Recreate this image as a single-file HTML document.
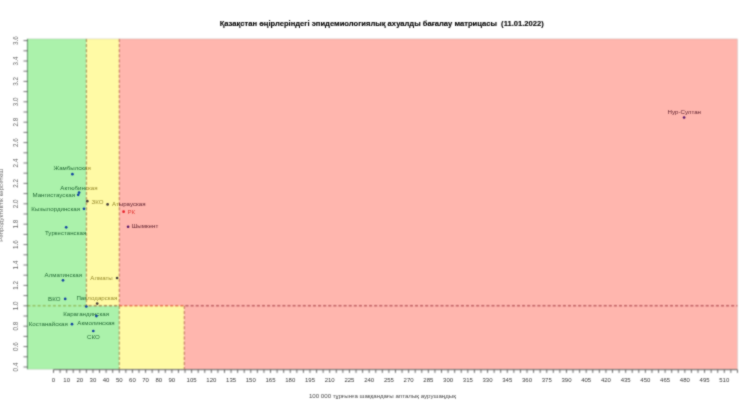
<!DOCTYPE html>
<html lang="kk"><head><meta charset="utf-8"><title>Матрица</title>
<style>html,body{margin:0;padding:0;background:#fff;overflow:hidden}svg{display:block}text{font-family:"Liberation Sans",sans-serif}</style></head><body>
<svg width="740" height="408" viewBox="0 0 740 408">
<defs>
<linearGradient id="tA" gradientUnits="userSpaceOnUse" x1="0" y1="0" x2="740" y2="0"><stop offset="0.11673" stop-color="#236a35"/><stop offset="0.11673" stop-color="#96892a"/><stop offset="0.16117" stop-color="#96892a"/><stop offset="0.16117" stop-color="#622430"/></linearGradient>
<linearGradient id="tB" gradientUnits="userSpaceOnUse" x1="0" y1="0" x2="740" y2="0"><stop offset="0.16117" stop-color="#236a35"/><stop offset="0.16117" stop-color="#96892a"/><stop offset="0.24905" stop-color="#96892a"/><stop offset="0.24905" stop-color="#622430"/></linearGradient>
<linearGradient id="pA" gradientUnits="userSpaceOnUse" x1="0" y1="0" x2="740" y2="0"><stop offset="0.11673" stop-color="#1244a0"/><stop offset="0.11673" stop-color="#453e3a"/><stop offset="0.16117" stop-color="#453e3a"/><stop offset="0.16117" stop-color="#5a1a6a"/></linearGradient>
<linearGradient id="pB" gradientUnits="userSpaceOnUse" x1="0" y1="0" x2="740" y2="0"><stop offset="0.16117" stop-color="#1244a0"/><stop offset="0.16117" stop-color="#453e3a"/><stop offset="0.24905" stop-color="#453e3a"/><stop offset="0.24905" stop-color="#5a1a6a"/></linearGradient>
<linearGradient id="hl" gradientUnits="userSpaceOnUse" x1="0" y1="0" x2="740" y2="0"><stop offset="0.11673" stop-color="#81a83b"/><stop offset="0.11673" stop-color="#8c5a28"/><stop offset="0.16117" stop-color="#8c5a28"/><stop offset="0.16117" stop-color="#d73c1e"/><stop offset="0.24905" stop-color="#d73c1e"/><stop offset="0.24905" stop-color="#a03038"/></linearGradient>
<filter id="sf" x="0" y="0" width="740" height="408" filterUnits="userSpaceOnUse" color-interpolation-filters="sRGB"><feConvolveMatrix order="3" kernelMatrix="1 2 1 2 6 2 1 2 1" divisor="18" edgeMode="duplicate" preserveAlpha="true"/></filter>
<filter id="sf2" x="0" y="0" width="740" height="408" filterUnits="userSpaceOnUse" color-interpolation-filters="sRGB"><feConvolveMatrix order="3" kernelMatrix="1 3 1 3 16 3 1 3 1" divisor="32" edgeMode="duplicate" preserveAlpha="false"/></filter>
</defs>
<g filter="url(#sf)">
<rect x="0" y="0" width="740" height="408" fill="#fff"/>
<rect x="27.30" y="38.90" width="59.08" height="266.90" fill="#abf2ab"/>
<rect x="86.38" y="38.90" width="32.88" height="266.90" fill="#fffaa5"/>
<rect x="119.27" y="38.90" width="618.13" height="266.90" fill="#ffb6ae"/>
<rect x="27.30" y="305.80" width="91.97" height="63.40" fill="#abf2ab"/>
<rect x="119.27" y="305.80" width="65.04" height="63.40" fill="#fffaa5"/>
<rect x="184.30" y="305.80" width="553.10" height="63.40" fill="#ffb6ae"/>
<rect x="27.3" y="38.9" width="710.10" height="330.30" fill="none" stroke="#888" stroke-opacity="0.35" stroke-width="0.6"/>
<line x1="86.38" y1="38.90" x2="86.38" y2="305.80" stroke="#8a561e" stroke-opacity="0.7" stroke-width="1" stroke-dasharray="3.2 1.9" fill="none"/>
<line x1="119.27" y1="38.90" x2="119.27" y2="305.80" stroke="#a2462a" stroke-opacity="0.7" stroke-width="1" stroke-dasharray="3.2 1.9" fill="none"/>
<line x1="119.27" y1="305.80" x2="119.27" y2="369.20" stroke="#8a561e" stroke-opacity="0.7" stroke-width="1" stroke-dasharray="3.2 1.9" fill="none"/>
<line x1="184.30" y1="305.80" x2="184.30" y2="369.20" stroke="#a2462a" stroke-opacity="0.7" stroke-width="1" stroke-dasharray="3.2 1.9" fill="none"/>
<line x1="27.30" y1="305.80" x2="737.40" y2="305.80" stroke="url(#hl)" stroke-opacity="1.0" stroke-width="1" stroke-dasharray="3.2 1.9" fill="none"/>
<line x1="27.40" y1="38.9" x2="27.40" y2="369.2" stroke="#2f6a3c" stroke-opacity="0.7" stroke-width="0.9" fill="none"/>
<line x1="23.50" y1="367.00" x2="27.70" y2="367.00" stroke="#555" stroke-width="0.8" fill="none"/>
<line x1="23.50" y1="356.80" x2="27.70" y2="356.80" stroke="#555" stroke-width="0.8" fill="none"/>
<line x1="23.50" y1="346.60" x2="27.70" y2="346.60" stroke="#555" stroke-width="0.8" fill="none"/>
<line x1="23.50" y1="336.40" x2="27.70" y2="336.40" stroke="#555" stroke-width="0.8" fill="none"/>
<line x1="23.50" y1="326.20" x2="27.70" y2="326.20" stroke="#555" stroke-width="0.8" fill="none"/>
<line x1="23.50" y1="316.00" x2="27.70" y2="316.00" stroke="#555" stroke-width="0.8" fill="none"/>
<line x1="23.50" y1="305.80" x2="27.70" y2="305.80" stroke="#555" stroke-width="0.8" fill="none"/>
<line x1="23.50" y1="295.60" x2="27.70" y2="295.60" stroke="#555" stroke-width="0.8" fill="none"/>
<line x1="23.50" y1="285.40" x2="27.70" y2="285.40" stroke="#555" stroke-width="0.8" fill="none"/>
<line x1="23.50" y1="275.20" x2="27.70" y2="275.20" stroke="#555" stroke-width="0.8" fill="none"/>
<line x1="23.50" y1="265.00" x2="27.70" y2="265.00" stroke="#555" stroke-width="0.8" fill="none"/>
<line x1="23.50" y1="254.80" x2="27.70" y2="254.80" stroke="#555" stroke-width="0.8" fill="none"/>
<line x1="23.50" y1="244.60" x2="27.70" y2="244.60" stroke="#555" stroke-width="0.8" fill="none"/>
<line x1="23.50" y1="234.40" x2="27.70" y2="234.40" stroke="#555" stroke-width="0.8" fill="none"/>
<line x1="23.50" y1="224.20" x2="27.70" y2="224.20" stroke="#555" stroke-width="0.8" fill="none"/>
<line x1="23.50" y1="214.00" x2="27.70" y2="214.00" stroke="#555" stroke-width="0.8" fill="none"/>
<line x1="23.50" y1="203.80" x2="27.70" y2="203.80" stroke="#555" stroke-width="0.8" fill="none"/>
<line x1="23.50" y1="193.60" x2="27.70" y2="193.60" stroke="#555" stroke-width="0.8" fill="none"/>
<line x1="23.50" y1="183.40" x2="27.70" y2="183.40" stroke="#555" stroke-width="0.8" fill="none"/>
<line x1="23.50" y1="173.20" x2="27.70" y2="173.20" stroke="#555" stroke-width="0.8" fill="none"/>
<line x1="23.50" y1="163.00" x2="27.70" y2="163.00" stroke="#555" stroke-width="0.8" fill="none"/>
<line x1="23.50" y1="152.80" x2="27.70" y2="152.80" stroke="#555" stroke-width="0.8" fill="none"/>
<line x1="23.50" y1="142.60" x2="27.70" y2="142.60" stroke="#555" stroke-width="0.8" fill="none"/>
<line x1="23.50" y1="132.40" x2="27.70" y2="132.40" stroke="#555" stroke-width="0.8" fill="none"/>
<line x1="23.50" y1="122.20" x2="27.70" y2="122.20" stroke="#555" stroke-width="0.8" fill="none"/>
<line x1="23.50" y1="112.00" x2="27.70" y2="112.00" stroke="#555" stroke-width="0.8" fill="none"/>
<line x1="23.50" y1="101.80" x2="27.70" y2="101.80" stroke="#555" stroke-width="0.8" fill="none"/>
<line x1="23.50" y1="91.60" x2="27.70" y2="91.60" stroke="#555" stroke-width="0.8" fill="none"/>
<line x1="23.50" y1="81.40" x2="27.70" y2="81.40" stroke="#555" stroke-width="0.8" fill="none"/>
<line x1="23.50" y1="71.20" x2="27.70" y2="71.20" stroke="#555" stroke-width="0.8" fill="none"/>
<line x1="23.50" y1="61.00" x2="27.70" y2="61.00" stroke="#555" stroke-width="0.8" fill="none"/>
<line x1="23.50" y1="50.80" x2="27.70" y2="50.80" stroke="#555" stroke-width="0.8" fill="none"/>
<line x1="23.50" y1="40.60" x2="27.70" y2="40.60" stroke="#555" stroke-width="0.8" fill="none"/>
<line x1="53.50" y1="369.7" x2="737.46" y2="369.7" stroke="#444" stroke-width="0.8" fill="none"/>
<line x1="53.50" y1="369.7" x2="53.50" y2="372.90" stroke="#444" stroke-width="0.8" fill="none"/>
<line x1="60.08" y1="369.7" x2="60.08" y2="372.90" stroke="#444" stroke-width="0.8" fill="none"/>
<line x1="66.65" y1="369.7" x2="66.65" y2="372.90" stroke="#444" stroke-width="0.8" fill="none"/>
<line x1="73.23" y1="369.7" x2="73.23" y2="372.90" stroke="#444" stroke-width="0.8" fill="none"/>
<line x1="79.81" y1="369.7" x2="79.81" y2="372.90" stroke="#444" stroke-width="0.8" fill="none"/>
<line x1="86.38" y1="369.7" x2="86.38" y2="372.90" stroke="#444" stroke-width="0.8" fill="none"/>
<line x1="92.96" y1="369.7" x2="92.96" y2="372.90" stroke="#444" stroke-width="0.8" fill="none"/>
<line x1="99.54" y1="369.7" x2="99.54" y2="372.90" stroke="#444" stroke-width="0.8" fill="none"/>
<line x1="106.11" y1="369.7" x2="106.11" y2="372.90" stroke="#444" stroke-width="0.8" fill="none"/>
<line x1="112.69" y1="369.7" x2="112.69" y2="372.90" stroke="#444" stroke-width="0.8" fill="none"/>
<line x1="119.27" y1="369.7" x2="119.27" y2="372.90" stroke="#444" stroke-width="0.8" fill="none"/>
<line x1="125.84" y1="369.7" x2="125.84" y2="372.90" stroke="#444" stroke-width="0.8" fill="none"/>
<line x1="132.42" y1="369.7" x2="132.42" y2="372.90" stroke="#444" stroke-width="0.8" fill="none"/>
<line x1="138.99" y1="369.7" x2="138.99" y2="372.90" stroke="#444" stroke-width="0.8" fill="none"/>
<line x1="145.57" y1="369.7" x2="145.57" y2="372.90" stroke="#444" stroke-width="0.8" fill="none"/>
<line x1="152.15" y1="369.7" x2="152.15" y2="372.90" stroke="#444" stroke-width="0.8" fill="none"/>
<line x1="158.72" y1="369.7" x2="158.72" y2="372.90" stroke="#444" stroke-width="0.8" fill="none"/>
<line x1="165.30" y1="369.7" x2="165.30" y2="372.90" stroke="#444" stroke-width="0.8" fill="none"/>
<line x1="171.88" y1="369.7" x2="171.88" y2="372.90" stroke="#444" stroke-width="0.8" fill="none"/>
<line x1="178.45" y1="369.7" x2="178.45" y2="372.90" stroke="#444" stroke-width="0.8" fill="none"/>
<line x1="185.03" y1="369.7" x2="185.03" y2="372.90" stroke="#444" stroke-width="0.8" fill="none"/>
<line x1="191.61" y1="369.7" x2="191.61" y2="372.90" stroke="#444" stroke-width="0.8" fill="none"/>
<line x1="198.18" y1="369.7" x2="198.18" y2="372.90" stroke="#444" stroke-width="0.8" fill="none"/>
<line x1="204.76" y1="369.7" x2="204.76" y2="372.90" stroke="#444" stroke-width="0.8" fill="none"/>
<line x1="211.34" y1="369.7" x2="211.34" y2="372.90" stroke="#444" stroke-width="0.8" fill="none"/>
<line x1="217.91" y1="369.7" x2="217.91" y2="372.90" stroke="#444" stroke-width="0.8" fill="none"/>
<line x1="224.49" y1="369.7" x2="224.49" y2="372.90" stroke="#444" stroke-width="0.8" fill="none"/>
<line x1="231.07" y1="369.7" x2="231.07" y2="372.90" stroke="#444" stroke-width="0.8" fill="none"/>
<line x1="237.64" y1="369.7" x2="237.64" y2="372.90" stroke="#444" stroke-width="0.8" fill="none"/>
<line x1="244.22" y1="369.7" x2="244.22" y2="372.90" stroke="#444" stroke-width="0.8" fill="none"/>
<line x1="250.79" y1="369.7" x2="250.79" y2="372.90" stroke="#444" stroke-width="0.8" fill="none"/>
<line x1="257.37" y1="369.7" x2="257.37" y2="372.90" stroke="#444" stroke-width="0.8" fill="none"/>
<line x1="263.95" y1="369.7" x2="263.95" y2="372.90" stroke="#444" stroke-width="0.8" fill="none"/>
<line x1="270.52" y1="369.7" x2="270.52" y2="372.90" stroke="#444" stroke-width="0.8" fill="none"/>
<line x1="277.10" y1="369.7" x2="277.10" y2="372.90" stroke="#444" stroke-width="0.8" fill="none"/>
<line x1="283.68" y1="369.7" x2="283.68" y2="372.90" stroke="#444" stroke-width="0.8" fill="none"/>
<line x1="290.25" y1="369.7" x2="290.25" y2="372.90" stroke="#444" stroke-width="0.8" fill="none"/>
<line x1="296.83" y1="369.7" x2="296.83" y2="372.90" stroke="#444" stroke-width="0.8" fill="none"/>
<line x1="303.41" y1="369.7" x2="303.41" y2="372.90" stroke="#444" stroke-width="0.8" fill="none"/>
<line x1="309.98" y1="369.7" x2="309.98" y2="372.90" stroke="#444" stroke-width="0.8" fill="none"/>
<line x1="316.56" y1="369.7" x2="316.56" y2="372.90" stroke="#444" stroke-width="0.8" fill="none"/>
<line x1="323.14" y1="369.7" x2="323.14" y2="372.90" stroke="#444" stroke-width="0.8" fill="none"/>
<line x1="329.71" y1="369.7" x2="329.71" y2="372.90" stroke="#444" stroke-width="0.8" fill="none"/>
<line x1="336.29" y1="369.7" x2="336.29" y2="372.90" stroke="#444" stroke-width="0.8" fill="none"/>
<line x1="342.87" y1="369.7" x2="342.87" y2="372.90" stroke="#444" stroke-width="0.8" fill="none"/>
<line x1="349.44" y1="369.7" x2="349.44" y2="372.90" stroke="#444" stroke-width="0.8" fill="none"/>
<line x1="356.02" y1="369.7" x2="356.02" y2="372.90" stroke="#444" stroke-width="0.8" fill="none"/>
<line x1="362.60" y1="369.7" x2="362.60" y2="372.90" stroke="#444" stroke-width="0.8" fill="none"/>
<line x1="369.17" y1="369.7" x2="369.17" y2="372.90" stroke="#444" stroke-width="0.8" fill="none"/>
<line x1="375.75" y1="369.7" x2="375.75" y2="372.90" stroke="#444" stroke-width="0.8" fill="none"/>
<line x1="382.32" y1="369.7" x2="382.32" y2="372.90" stroke="#444" stroke-width="0.8" fill="none"/>
<line x1="388.90" y1="369.7" x2="388.90" y2="372.90" stroke="#444" stroke-width="0.8" fill="none"/>
<line x1="395.48" y1="369.7" x2="395.48" y2="372.90" stroke="#444" stroke-width="0.8" fill="none"/>
<line x1="402.05" y1="369.7" x2="402.05" y2="372.90" stroke="#444" stroke-width="0.8" fill="none"/>
<line x1="408.63" y1="369.7" x2="408.63" y2="372.90" stroke="#444" stroke-width="0.8" fill="none"/>
<line x1="415.21" y1="369.7" x2="415.21" y2="372.90" stroke="#444" stroke-width="0.8" fill="none"/>
<line x1="421.78" y1="369.7" x2="421.78" y2="372.90" stroke="#444" stroke-width="0.8" fill="none"/>
<line x1="428.36" y1="369.7" x2="428.36" y2="372.90" stroke="#444" stroke-width="0.8" fill="none"/>
<line x1="434.94" y1="369.7" x2="434.94" y2="372.90" stroke="#444" stroke-width="0.8" fill="none"/>
<line x1="441.51" y1="369.7" x2="441.51" y2="372.90" stroke="#444" stroke-width="0.8" fill="none"/>
<line x1="448.09" y1="369.7" x2="448.09" y2="372.90" stroke="#444" stroke-width="0.8" fill="none"/>
<line x1="454.67" y1="369.7" x2="454.67" y2="372.90" stroke="#444" stroke-width="0.8" fill="none"/>
<line x1="461.24" y1="369.7" x2="461.24" y2="372.90" stroke="#444" stroke-width="0.8" fill="none"/>
<line x1="467.82" y1="369.7" x2="467.82" y2="372.90" stroke="#444" stroke-width="0.8" fill="none"/>
<line x1="474.40" y1="369.7" x2="474.40" y2="372.90" stroke="#444" stroke-width="0.8" fill="none"/>
<line x1="480.97" y1="369.7" x2="480.97" y2="372.90" stroke="#444" stroke-width="0.8" fill="none"/>
<line x1="487.55" y1="369.7" x2="487.55" y2="372.90" stroke="#444" stroke-width="0.8" fill="none"/>
<line x1="494.13" y1="369.7" x2="494.13" y2="372.90" stroke="#444" stroke-width="0.8" fill="none"/>
<line x1="500.70" y1="369.7" x2="500.70" y2="372.90" stroke="#444" stroke-width="0.8" fill="none"/>
<line x1="507.28" y1="369.7" x2="507.28" y2="372.90" stroke="#444" stroke-width="0.8" fill="none"/>
<line x1="513.86" y1="369.7" x2="513.86" y2="372.90" stroke="#444" stroke-width="0.8" fill="none"/>
<line x1="520.43" y1="369.7" x2="520.43" y2="372.90" stroke="#444" stroke-width="0.8" fill="none"/>
<line x1="527.01" y1="369.7" x2="527.01" y2="372.90" stroke="#444" stroke-width="0.8" fill="none"/>
<line x1="533.58" y1="369.7" x2="533.58" y2="372.90" stroke="#444" stroke-width="0.8" fill="none"/>
<line x1="540.16" y1="369.7" x2="540.16" y2="372.90" stroke="#444" stroke-width="0.8" fill="none"/>
<line x1="546.74" y1="369.7" x2="546.74" y2="372.90" stroke="#444" stroke-width="0.8" fill="none"/>
<line x1="553.31" y1="369.7" x2="553.31" y2="372.90" stroke="#444" stroke-width="0.8" fill="none"/>
<line x1="559.89" y1="369.7" x2="559.89" y2="372.90" stroke="#444" stroke-width="0.8" fill="none"/>
<line x1="566.47" y1="369.7" x2="566.47" y2="372.90" stroke="#444" stroke-width="0.8" fill="none"/>
<line x1="573.04" y1="369.7" x2="573.04" y2="372.90" stroke="#444" stroke-width="0.8" fill="none"/>
<line x1="579.62" y1="369.7" x2="579.62" y2="372.90" stroke="#444" stroke-width="0.8" fill="none"/>
<line x1="586.20" y1="369.7" x2="586.20" y2="372.90" stroke="#444" stroke-width="0.8" fill="none"/>
<line x1="592.77" y1="369.7" x2="592.77" y2="372.90" stroke="#444" stroke-width="0.8" fill="none"/>
<line x1="599.35" y1="369.7" x2="599.35" y2="372.90" stroke="#444" stroke-width="0.8" fill="none"/>
<line x1="605.93" y1="369.7" x2="605.93" y2="372.90" stroke="#444" stroke-width="0.8" fill="none"/>
<line x1="612.50" y1="369.7" x2="612.50" y2="372.90" stroke="#444" stroke-width="0.8" fill="none"/>
<line x1="619.08" y1="369.7" x2="619.08" y2="372.90" stroke="#444" stroke-width="0.8" fill="none"/>
<line x1="625.66" y1="369.7" x2="625.66" y2="372.90" stroke="#444" stroke-width="0.8" fill="none"/>
<line x1="632.23" y1="369.7" x2="632.23" y2="372.90" stroke="#444" stroke-width="0.8" fill="none"/>
<line x1="638.81" y1="369.7" x2="638.81" y2="372.90" stroke="#444" stroke-width="0.8" fill="none"/>
<line x1="645.38" y1="369.7" x2="645.38" y2="372.90" stroke="#444" stroke-width="0.8" fill="none"/>
<line x1="651.96" y1="369.7" x2="651.96" y2="372.90" stroke="#444" stroke-width="0.8" fill="none"/>
<line x1="658.54" y1="369.7" x2="658.54" y2="372.90" stroke="#444" stroke-width="0.8" fill="none"/>
<line x1="665.11" y1="369.7" x2="665.11" y2="372.90" stroke="#444" stroke-width="0.8" fill="none"/>
<line x1="671.69" y1="369.7" x2="671.69" y2="372.90" stroke="#444" stroke-width="0.8" fill="none"/>
<line x1="678.27" y1="369.7" x2="678.27" y2="372.90" stroke="#444" stroke-width="0.8" fill="none"/>
<line x1="684.84" y1="369.7" x2="684.84" y2="372.90" stroke="#444" stroke-width="0.8" fill="none"/>
<line x1="691.42" y1="369.7" x2="691.42" y2="372.90" stroke="#444" stroke-width="0.8" fill="none"/>
<line x1="698.00" y1="369.7" x2="698.00" y2="372.90" stroke="#444" stroke-width="0.8" fill="none"/>
<line x1="704.57" y1="369.7" x2="704.57" y2="372.90" stroke="#444" stroke-width="0.8" fill="none"/>
<line x1="711.15" y1="369.7" x2="711.15" y2="372.90" stroke="#444" stroke-width="0.8" fill="none"/>
<line x1="717.73" y1="369.7" x2="717.73" y2="372.90" stroke="#444" stroke-width="0.8" fill="none"/>
<line x1="724.30" y1="369.7" x2="724.30" y2="372.90" stroke="#444" stroke-width="0.8" fill="none"/>
<line x1="730.88" y1="369.7" x2="730.88" y2="372.90" stroke="#444" stroke-width="0.8" fill="none"/>
<line x1="737.46" y1="369.7" x2="737.46" y2="372.90" stroke="#444" stroke-width="0.8" fill="none"/>
</g>
<g filter="url(#sf2)">
<text transform="translate(18.2 367.00) rotate(-90)" text-anchor="middle" font-size="6.3" fill="#666">0.4</text>
<text transform="translate(18.2 346.60) rotate(-90)" text-anchor="middle" font-size="6.3" fill="#666">0.6</text>
<text transform="translate(18.2 326.20) rotate(-90)" text-anchor="middle" font-size="6.3" fill="#666">0.8</text>
<text transform="translate(18.2 305.80) rotate(-90)" text-anchor="middle" font-size="6.3" fill="#666">1.0</text>
<text transform="translate(18.2 285.40) rotate(-90)" text-anchor="middle" font-size="6.3" fill="#666">1.2</text>
<text transform="translate(18.2 265.00) rotate(-90)" text-anchor="middle" font-size="6.3" fill="#666">1.4</text>
<text transform="translate(18.2 244.60) rotate(-90)" text-anchor="middle" font-size="6.3" fill="#666">1.6</text>
<text transform="translate(18.2 224.20) rotate(-90)" text-anchor="middle" font-size="6.3" fill="#666">1.8</text>
<text transform="translate(18.2 203.80) rotate(-90)" text-anchor="middle" font-size="6.3" fill="#666">2.0</text>
<text transform="translate(18.2 183.40) rotate(-90)" text-anchor="middle" font-size="6.3" fill="#666">2.2</text>
<text transform="translate(18.2 163.00) rotate(-90)" text-anchor="middle" font-size="6.3" fill="#666">2.4</text>
<text transform="translate(18.2 142.60) rotate(-90)" text-anchor="middle" font-size="6.3" fill="#666">2.6</text>
<text transform="translate(18.2 122.20) rotate(-90)" text-anchor="middle" font-size="6.3" fill="#666">2.8</text>
<text transform="translate(18.2 101.80) rotate(-90)" text-anchor="middle" font-size="6.3" fill="#666">3.0</text>
<text transform="translate(18.2 81.40) rotate(-90)" text-anchor="middle" font-size="6.3" fill="#666">3.2</text>
<text transform="translate(18.2 61.00) rotate(-90)" text-anchor="middle" font-size="6.3" fill="#666">3.4</text>
<text transform="translate(18.2 40.60) rotate(-90)" text-anchor="middle" font-size="6.3" fill="#666">3.6</text>
<text x="53.50" y="382.2" text-anchor="middle" font-size="6" fill="#383838">0</text>
<text x="66.65" y="382.2" text-anchor="middle" font-size="6" fill="#383838">10</text>
<text x="79.81" y="382.2" text-anchor="middle" font-size="6" fill="#383838">20</text>
<text x="92.96" y="382.2" text-anchor="middle" font-size="6" fill="#383838">30</text>
<text x="106.11" y="382.2" text-anchor="middle" font-size="6" fill="#383838">40</text>
<text x="119.27" y="382.2" text-anchor="middle" font-size="6" fill="#383838">50</text>
<text x="132.42" y="382.2" text-anchor="middle" font-size="6" fill="#383838">60</text>
<text x="145.57" y="382.2" text-anchor="middle" font-size="6" fill="#383838">70</text>
<text x="158.72" y="382.2" text-anchor="middle" font-size="6" fill="#383838">80</text>
<text x="171.88" y="382.2" text-anchor="middle" font-size="6" fill="#383838">90</text>
<text x="191.61" y="382.2" text-anchor="middle" font-size="6" fill="#383838">105</text>
<text x="211.34" y="382.2" text-anchor="middle" font-size="6" fill="#383838">120</text>
<text x="231.07" y="382.2" text-anchor="middle" font-size="6" fill="#383838">135</text>
<text x="250.79" y="382.2" text-anchor="middle" font-size="6" fill="#383838">150</text>
<text x="270.52" y="382.2" text-anchor="middle" font-size="6" fill="#383838">165</text>
<text x="290.25" y="382.2" text-anchor="middle" font-size="6" fill="#383838">180</text>
<text x="309.98" y="382.2" text-anchor="middle" font-size="6" fill="#383838">195</text>
<text x="329.71" y="382.2" text-anchor="middle" font-size="6" fill="#383838">210</text>
<text x="349.44" y="382.2" text-anchor="middle" font-size="6" fill="#383838">225</text>
<text x="369.17" y="382.2" text-anchor="middle" font-size="6" fill="#383838">240</text>
<text x="388.90" y="382.2" text-anchor="middle" font-size="6" fill="#383838">255</text>
<text x="408.63" y="382.2" text-anchor="middle" font-size="6" fill="#383838">270</text>
<text x="428.36" y="382.2" text-anchor="middle" font-size="6" fill="#383838">285</text>
<text x="448.09" y="382.2" text-anchor="middle" font-size="6" fill="#383838">300</text>
<text x="467.82" y="382.2" text-anchor="middle" font-size="6" fill="#383838">315</text>
<text x="487.55" y="382.2" text-anchor="middle" font-size="6" fill="#383838">330</text>
<text x="507.28" y="382.2" text-anchor="middle" font-size="6" fill="#383838">345</text>
<text x="527.01" y="382.2" text-anchor="middle" font-size="6" fill="#383838">360</text>
<text x="546.74" y="382.2" text-anchor="middle" font-size="6" fill="#383838">375</text>
<text x="566.47" y="382.2" text-anchor="middle" font-size="6" fill="#383838">390</text>
<text x="586.20" y="382.2" text-anchor="middle" font-size="6" fill="#383838">405</text>
<text x="605.93" y="382.2" text-anchor="middle" font-size="6" fill="#383838">420</text>
<text x="625.66" y="382.2" text-anchor="middle" font-size="6" fill="#383838">435</text>
<text x="645.38" y="382.2" text-anchor="middle" font-size="6" fill="#383838">450</text>
<text x="665.11" y="382.2" text-anchor="middle" font-size="6" fill="#383838">465</text>
<text x="684.84" y="382.2" text-anchor="middle" font-size="6" fill="#383838">480</text>
<text x="704.57" y="382.2" text-anchor="middle" font-size="6" fill="#383838">495</text>
<text x="724.30" y="382.2" text-anchor="middle" font-size="6" fill="#383838">510</text>
<text x="381.7" y="26.3" text-anchor="middle" font-size="7.6" font-weight="bold" fill="#000" stroke="#000" stroke-width="0.12" xml:space="preserve">Қазақстан өңірлеріндегі эпидемиологиялық ахуалды бағалау матрицасы  (11.01.2022)</text>
<text x="382.4" y="397.8" text-anchor="middle" font-size="5.8" textLength="147" lengthAdjust="spacingAndGlyphs" fill="#484848">100 000 тұрғынға шаққандағы апталық аурушаңдық</text>
<text transform="translate(2.9 205.2) rotate(-90)" text-anchor="middle" font-size="5.8" textLength="73" lengthAdjust="spacingAndGlyphs" fill="#6a6a6a">Репродуктивтік көрсеткіш</text>
<circle cx="72.40" cy="174.20" r="1.35" fill="url(#pA)"/>
<text x="72.15" y="170.29" text-anchor="middle" font-size="5.85" textLength="37.46" lengthAdjust="spacingAndGlyphs" fill="url(#tA)">Жамбылская</text>
<circle cx="79.10" cy="192.60" r="1.35" fill="url(#pA)"/>
<text x="78.95" y="189.69" text-anchor="middle" font-size="5.85" textLength="37.25" lengthAdjust="spacingAndGlyphs" fill="url(#tA)">Актюбинская</text>
<circle cx="78.20" cy="194.80" r="1.35" fill="url(#pA)"/>
<text x="75.00" y="197.09" text-anchor="end" font-size="5.85" textLength="42.47" lengthAdjust="spacingAndGlyphs" fill="url(#tA)">Мангистауская</text>
<circle cx="87.30" cy="201.20" r="1.35" fill="url(#pA)"/>
<text x="91.50" y="203.89" text-anchor="start" font-size="5.85" textLength="12.00" lengthAdjust="spacingAndGlyphs" fill="url(#tA)">ЗКО</text>
<circle cx="107.60" cy="204.40" r="1.35" fill="url(#pA)"/>
<text x="112.00" y="206.49" text-anchor="start" font-size="5.85" textLength="33.59" lengthAdjust="spacingAndGlyphs" fill="url(#tA)">Атырауская</text>
<circle cx="123.60" cy="211.70" r="1.35" fill="#e8202a"/>
<text x="127.40" y="213.79" text-anchor="start" font-size="5.85" textLength="7.68" lengthAdjust="spacingAndGlyphs" fill="#e23c36">РК</text>
<circle cx="84.00" cy="208.80" r="1.35" fill="url(#pA)"/>
<text x="80.00" y="210.89" text-anchor="end" font-size="5.85" textLength="48.61" lengthAdjust="spacingAndGlyphs" fill="url(#tA)">Кызылординская</text>
<circle cx="128.10" cy="226.75" r="1.35" fill="url(#pA)"/>
<text x="131.70" y="228.49" text-anchor="start" font-size="5.85" textLength="26.65" lengthAdjust="spacingAndGlyphs" fill="url(#tA)">Шымкент</text>
<circle cx="66.20" cy="227.30" r="1.35" fill="url(#pA)"/>
<text x="65.60" y="235.29" text-anchor="middle" font-size="5.85" textLength="41.26" lengthAdjust="spacingAndGlyphs" fill="url(#tA)">Туркестанская</text>
<circle cx="63.00" cy="280.30" r="1.35" fill="url(#pA)"/>
<text x="63.35" y="276.79" text-anchor="middle" font-size="5.85" textLength="37.46" lengthAdjust="spacingAndGlyphs" fill="url(#tA)">Алматинская</text>
<circle cx="117.10" cy="278.00" r="1.35" fill="url(#pA)"/>
<text x="112.80" y="279.79" text-anchor="end" font-size="5.85" textLength="22.41" lengthAdjust="spacingAndGlyphs" fill="url(#tA)">Алматы</text>
<circle cx="65.20" cy="298.90" r="1.35" fill="url(#pA)"/>
<text x="60.50" y="300.99" text-anchor="end" font-size="5.85" textLength="12.38" lengthAdjust="spacingAndGlyphs" fill="url(#tA)">ВКО</text>
<circle cx="97.20" cy="303.60" r="1.35" fill="url(#pA)"/>
<text x="96.90" y="300.29" text-anchor="middle" font-size="5.85" textLength="40.94" lengthAdjust="spacingAndGlyphs" fill="url(#tA)">Павлодарская</text>
<circle cx="86.30" cy="306.50" r="1.35" fill="url(#pB)"/>
<text x="86.10" y="315.59" text-anchor="middle" font-size="5.85" textLength="45.78" lengthAdjust="spacingAndGlyphs" fill="url(#tB)">Карагандинская</text>
<circle cx="96.40" cy="316.10" r="1.35" fill="url(#pB)"/>
<text x="96.05" y="325.09" text-anchor="middle" font-size="5.85" textLength="37.33" lengthAdjust="spacingAndGlyphs" fill="url(#tB)">Акмолинская</text>
<circle cx="72.00" cy="324.20" r="1.35" fill="url(#pB)"/>
<text x="67.80" y="326.39" text-anchor="end" font-size="5.85" textLength="39.10" lengthAdjust="spacingAndGlyphs" fill="url(#tB)">Костанайская</text>
<circle cx="93.30" cy="331.00" r="1.35" fill="url(#pB)"/>
<text x="93.40" y="339.49" text-anchor="middle" font-size="5.85" textLength="12.72" lengthAdjust="spacingAndGlyphs" fill="url(#tB)">СКО</text>
<circle cx="684.10" cy="117.50" r="1.35" fill="url(#pA)"/>
<text x="684.30" y="114.09" text-anchor="middle" font-size="5.85" textLength="33.41" lengthAdjust="spacingAndGlyphs" fill="url(#tA)">Нур-Султан</text>
</g></svg></body></html>
